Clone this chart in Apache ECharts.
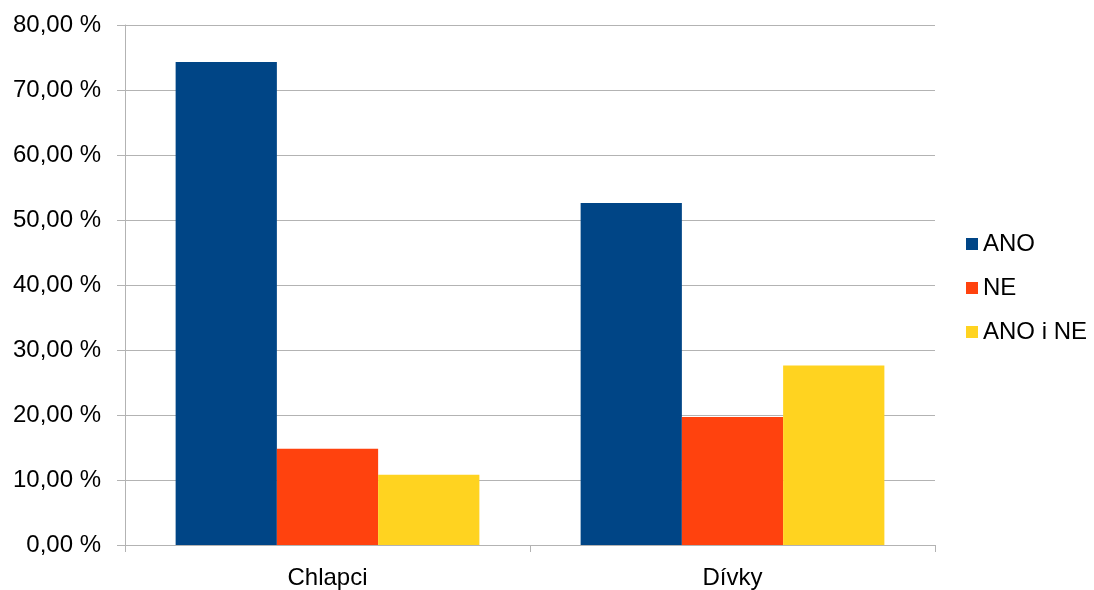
<!DOCTYPE html>
<html>
<head>
<meta charset="utf-8">
<script src="https://cdn.jsdelivr.net/npm/echarts@6/dist/echarts.min.js"></script>
<style>
html,body{margin:0;padding:0;background:#fff;}
#c{width:1094px;height:590px;}
</style>
</head>
<body>
<div id="c"></div>
<script>
const categories = ['Chlapci', 'Dívky'];
const seriesNames = ['ANO', 'NE', 'ANO i NE'];
const ano = [74.3, 52.6];
const ne = [14.8, 19.7];
const anoINe = [10.8, 27.6];
const colors = ['#004586', '#ff420e', '#ffd320'];

const chart = echarts.init(document.getElementById('c'));
const font = '"Liberation Sans", Arial, sans-serif';
const values = [ano, ne, anoINe];
chart.setOption({
  animation: false,
  textStyle: { fontFamily: font },
  grid: { left: 125, right: 159, top: 25, bottom: 43, containLabel: false },
  legend: {
    orient: 'vertical',
    left: 961,
    top: 227,
    itemWidth: 12,
    itemHeight: 12,
    itemGap: 20,
    icon: 'rect',
    textStyle: { fontSize: 24, color: '#000', fontFamily: font, lineHeight: 22 },
    data: seriesNames
  },
  xAxis: {
    type: 'category',
    data: categories,
    axisLine: { lineStyle: { color: '#b3b3b3', width: 1 } },
    axisTick: { show: true, length: 7, lineStyle: { color: '#b3b3b3' } },
    axisLabel: { fontSize: 24, color: '#000', margin: 21, fontFamily: font }
  },
  yAxis: {
    type: 'value',
    min: 0, max: 80, interval: 10,
    axisLine: { show: true, lineStyle: { color: '#b3b3b3', width: 1 } },
    axisTick: { show: true, length: 8, lineStyle: { color: '#b3b3b3' } },
    splitLine: { show: true, lineStyle: { color: '#b3b3b3', width: 1 } },
    axisLabel: {
      fontSize: 24, color: '#000', margin: 24, fontFamily: font,
      formatter: v => v.toFixed(2).replace('.', ',') + ' %'
    }
  },
  series: seriesNames.map((n, i) => ({
    name: n,
    type: 'bar',
    data: values[i],
    barGap: '0%',
    barCategoryGap: '25%',
    itemStyle: { color: colors[i] }
  }))
});
</script>
</body>
</html>
